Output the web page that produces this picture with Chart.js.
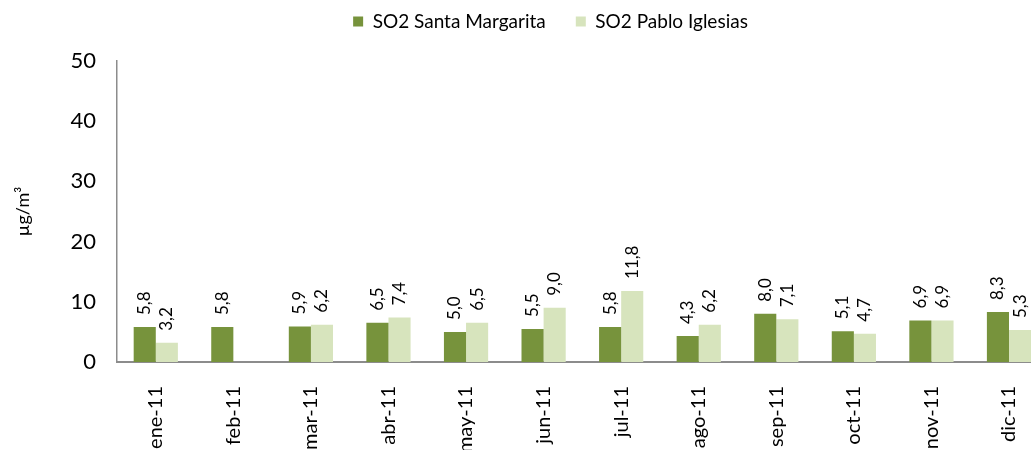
<!DOCTYPE html>
<html>
<head>
<meta charset="utf-8">
<script src="https://cdn.jsdelivr.net/npm/chart.js@4/dist/chart.umd.min.js"></script>
<style>
  html, body { margin: 0; padding: 0; background: #fff; overflow: hidden; }
  #wrap { width: 1057px; height: 450px; }
</style>
</head>
<body>
<div id="wrap"><canvas id="chart" width="1057" height="450"></canvas></div>
<script>
// data
const months = ['ene-11','feb-11','mar-11','abr-11','may-11','jun-11','jul-11','ago-11','sep-11','oct-11','nov-11','dic-11'];
const santaMargarita = [5.8, 5.8, 5.9, 6.5, 5.0, 5.5, 5.8, 4.3, 8.0, 5.1, 6.9, 8.3];
const pabloIglesias = [3.2, null, 6.2, 7.4, 6.5, 9.0, 11.8, 6.2, 7.1, 4.7, 6.9, 5.3];
const yTicks = [0, 10, 20, 30, 40, 50];

const FONT = 'Lato, "Open Sans", sans-serif';

// rotated value labels above each bar
const valueLabels = {
  id: 'valueLabels',
  afterDatasetsDraw(chart){
    const ctx = chart.ctx;
    chart.data.datasets.forEach((ds, i) => {
      const meta = chart.getDatasetMeta(i);
      meta.data.forEach((bar, j) => {
        const v = ds.data[j];
        if(v === null || v === undefined){
          return;
        }
        ctx.save();
        ctx.translate(bar.x, bar.y - 12);
        ctx.rotate(-Math.PI / 2);
        ctx.font = '17px ' + FONT;
        ctx.fillStyle = '#000';
        ctx.textAlign = 'left';
        ctx.textBaseline = 'middle';
        ctx.fillText(v.toFixed(1).replace('.', ','), 0, 0);
        ctx.restore();
      });
    });
  }
};

// legend: taller box so the plot starts lower, and nudged right like the original
const legendTweak = {
  id: 'legendTweak',
  afterInit(chart){
    const lg = chart.legend;
    const fit = lg.fit;
    lg.fit = function(){
      fit.call(this);
      this.height = 79;
    };
  },
  afterLayout(chart){
    chart.legend.left += 22;
    chart.legend.right += 22;
  }
};

new Chart(document.getElementById('chart').getContext('2d'), {
  type: 'bar',
  data: {
    labels: months,
    datasets: [
      {
        label: 'SO2 Santa Margarita',
        data: santaMargarita,
        backgroundColor: '#77933C',
        categoryPercentage: 0.57,
        barPercentage: 1.0
      },
      {
        label: 'SO2 Pablo Iglesias',
        data: pabloIglesias,
        backgroundColor: '#D7E4BD',
        categoryPercentage: 0.57,
        barPercentage: 1.0
      }
    ]
  },
  options: {
    responsive: false,
    animation: false,
    layout: {
      padding: { top: -18, left: 0, right: 0, bottom: 0 }
    },
    plugins: {
      legend: {
        position: 'top',
        labels: {
          boxWidth: 10,
          boxHeight: 10,
          padding: 30,
          color: '#000',
          font: { family: FONT, size: 19 }
        }
      },
      tooltip: { enabled: false }
    },
    scales: {
      x: {
        afterFit(scale){
          scale.height = 88;
        },
        grid: { display: false, drawTicks: false },
        border: { display: true, color: '#8c8c8c', width: 2 },
        ticks: {
          minRotation: 90,
          maxRotation: 90,
          padding: 24,
          color: '#000',
          font: { family: FONT, size: 20 }
        }
      },
      y: {
        min: 0,
        max: 50,
        afterBuildTicks(scale){
          scale.ticks = yTicks.map(v => ({ value: v }));
        },
        afterFit(scale){
          scale.width = 117;
        },
        grid: { display: false, drawTicks: false },
        border: { display: true, color: '#8c8c8c', width: 1.5 },
        ticks: {
          padding: 21,
          color: '#000',
          font: { family: FONT, size: 22 }
        },
        title: {
          display: true,
          text: 'µg/m³',
          color: '#000',
          padding: { top: 12, bottom: 0 },
          font: { family: FONT, size: 18 }
        }
      }
    }
  },
  plugins: [valueLabels, legendTweak]
});
</script>
</body>
</html>
